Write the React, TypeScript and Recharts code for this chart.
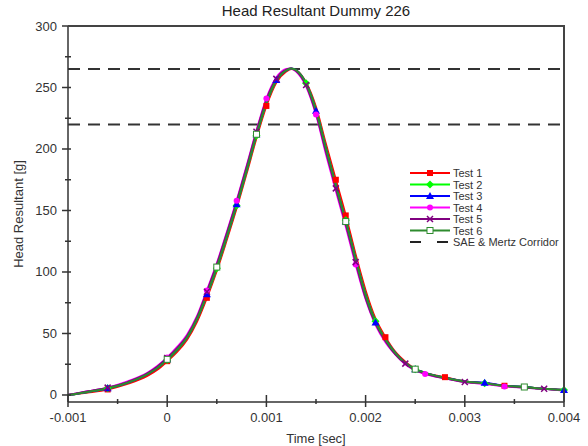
import { LineChart, Line, XAxis, YAxis, ReferenceLine } from 'recharts';

const time = [
  -0.001, -0.0008, -0.0006, -0.0004, -0.0002, -0.0001, 0, 0.0001, 0.0002, 0.0003,
  0.0004, 0.0005, 0.0006, 0.0007, 0.0008, 0.0009, 0.001, 0.0011, 0.0012, 0.00125,
  0.0013, 0.0014, 0.0015, 0.0016, 0.0017, 0.0018, 0.0019, 0.002, 0.0021, 0.0022,
  0.0023, 0.0024, 0.0025, 0.0026, 0.0028, 0.003, 0.0032, 0.0034, 0.0036, 0.0038, 0.004,
];

const test1 = [0, 2, 4.5, 9, 15.5, 20.5, 27.5, 35, 45, 59.5, 79, 101, 126, 152, 180, 209, 235, 254, 263, 265, 264, 254, 234, 204, 175, 146, 114, 85, 62, 47, 35, 27, 21, 18, 14.5, 11, 9.5, 7.5, 6.5, 5, 4];
const test2 = [0, 2.5, 5.5, 10, 17, 22, 28.5, 36.5, 46.5, 61.5, 81, 103, 128, 154, 182, 211, 237, 255.5, 264, 265.5, 264, 253.5, 232, 201, 171, 142, 111, 82, 60, 45.5, 34, 26, 21, 18, 14, 11, 9.5, 7.5, 6.5, 5, 4];
const test3 = [0, 2.5, 5.5, 10, 17, 22, 29, 37, 47, 62, 82, 104, 129, 155, 183, 212, 238, 256, 264, 265.5, 264, 253, 231, 200, 170, 141, 110, 81, 59, 45, 34, 26, 21, 18, 14, 11, 10, 7.5, 6.5, 5, 4];
const test4 = [0, 3, 6, 11, 18, 23.5, 30.5, 39, 49, 64, 85, 107, 132, 158, 186, 215, 241, 258, 265, 265.5, 263, 251, 228, 196, 166, 137, 106, 78, 57, 43, 33, 25, 20, 17, 13.5, 10.5, 9, 7, 6, 5, 3.5];
const test5 = [0, 3, 6, 10.5, 17.5, 23, 30, 38, 48, 63, 84, 106, 131, 157, 185, 214, 240, 257, 264.5, 265.5, 263.5, 252, 229, 198, 168, 139, 108, 79, 58, 44, 33, 25.5, 20.5, 17.5, 13.5, 10.5, 9.5, 7.5, 6, 5, 4];
const test6 = [0, 2.5, 5.5, 10, 17, 22, 29, 37, 47, 62, 82, 104, 129, 155, 183, 212, 238, 256, 264, 265.5, 264, 253, 231, 200, 170, 141, 110, 81, 59, 45, 34, 26, 21, 18, 14, 11, 9.5, 7.5, 6.5, 5, 4];

const corridor = [265, 220];

const xTicks = [-0.001, -0.0005, 0, 0.0005, 0.001, 0.0015, 0.002, 0.0025, 0.003, 0.0035, 0.004];
const yTicks = [0, 25, 50, 75, 100, 125, 150, 175, 200, 225, 250, 275, 300];

// which samples carry a marker, per series
const markerIdx: Record<string, number[]> = {
  test1: [2, 6, 10, 16, 24, 25, 29, 34, 37],
  test2: [2, 6, 11, 13, 15, 21, 25, 28, 32, 36, 40],
  test3: [2, 6, 10, 13, 15, 17, 22, 25, 28, 32, 36, 40],
  test4: [6, 10, 13, 16, 22, 26, 33, 37],
  test5: [2, 6, 10, 15, 17, 21, 24, 26, 31, 35, 39],
  test6: [6, 11, 15, 25, 32, 38],
};

const series = [
  { key: 'test1', name: 'Test 1', color: '#ff0000', shape: 'square' },
  { key: 'test2', name: 'Test 2', color: '#00ff00', shape: 'diamond' },
  { key: 'test3', name: 'Test 3', color: '#0000ff', shape: 'triangle' },
  { key: 'test4', name: 'Test 4', color: '#ff00ff', shape: 'circle' },
  { key: 'test5', name: 'Test 5', color: '#800080', shape: 'cross' },
  { key: 'test6', name: 'Test 6', color: '#2e8b2e', shape: 'open' },
];

const data = time.map((t, i) => ({
  t,
  test1: test1[i],
  test2: test2[i],
  test3: test3[i],
  test4: test4[i],
  test5: test5[i],
  test6: test6[i],
}));

const FONT = 'Liberation Sans, Arial, sans-serif';

function Marker({ cx, cy, color, shape }: { cx: number; cy: number; color: string; shape: string }) {
  const s = 3;
  if (shape === 'square') return <rect x={cx - s} y={cy - s} width={2 * s} height={2 * s} fill={color} />;
  if (shape === 'diamond')
    return <polygon points={`${cx},${cy - 4} ${cx + 4},${cy} ${cx},${cy + 4} ${cx - 4},${cy}`} fill={color} />;
  if (shape === 'triangle')
    return <polygon points={`${cx},${cy - 4} ${cx + 4},${cy + 3} ${cx - 4},${cy + 3}`} fill={color} />;
  if (shape === 'circle') return <circle cx={cx} cy={cy} r={3} fill={color} />;
  if (shape === 'cross')
    return (
      <g stroke={color} strokeWidth={1.5}>
        <line x1={cx - 3} y1={cy - 3} x2={cx + 3} y2={cy + 3} />
        <line x1={cx - 3} y1={cy + 3} x2={cx + 3} y2={cy - 3} />
      </g>
    );
  return <rect x={cx - 3} y={cy - 3} width={6} height={6} fill="#fff" stroke={color} strokeWidth={1} />;
}

function makeDot(key: string, color: string, shape: string) {
  const set = markerIdx[key];
  return (p: any) => {
    if (!set.includes(p.index) || p.cx == null) return <g key={`${key}-${p.index}`} />;
    return (
      <g key={`${key}-${p.index}`}>
        <Marker cx={p.cx} cy={p.cy} color={color} shape={shape} />
      </g>
    );
  };
}

const isMajor = (v: number, step: number) => Math.abs(v / step - Math.round(v / step)) < 1e-6;

function XTick(props: any) {
  const { x, y, payload } = props;
  const v = payload.value;
  const major = isMajor(v, 0.001);
  return (
    <g>
      <line x1={x} x2={x} y1={major ? y - 15 : y - 11} y2={major ? y - 3 : y - 6} stroke="#333" strokeWidth={1.5} />
      {major && (
        <text x={x} y={y + 12} textAnchor="middle" fontSize={13} fill="#333" fontFamily={FONT}>
          {v === 0 ? '0' : v.toFixed(3)}
        </text>
      )}
    </g>
  );
}

function YTick(props: any) {
  const { x, y, payload } = props;
  const v = payload.value;
  const major = isMajor(v, 50);
  return (
    <g>
      <line x1={major ? x + 2 : x + 5} x2={x + 11} y1={y} y2={y} stroke="#333" strokeWidth={1.5} />
      {major && (
        <text x={x - 3} y={y + 4.5} textAnchor="end" fontSize={13} fill="#333" fontFamily={FONT}>
          {v}
        </text>
      )}
    </g>
  );
}

function LegendBox() {
  const rowH = 11.5;
  return (
    <svg width={160} height={90} style={{ display: 'block' }}>
      {series.map((s, i) => {
        const cy = 7 + i * rowH;
        return (
          <g key={s.key}>
            <line x1={5} x2={45} y1={cy} y2={cy} stroke={s.color} strokeWidth={2} />
            <Marker cx={25} cy={cy} color={s.color} shape={s.shape} />
            <text x={48} y={cy + 4} fontSize={11} fill="#333" fontFamily={FONT}>
              {s.name}
            </text>
          </g>
        );
      })}
      <g>
        <line x1={5} x2={45} y1={7 + 6 * rowH} y2={7 + 6 * rowH} stroke="#222" strokeWidth={2} strokeDasharray="11 16" />
        <text x={48} y={7 + 6 * rowH + 4} fontSize={11} fill="#333" fontFamily={FONT}>
          SAE &amp; Mertz Corridor
        </text>
      </g>
    </svg>
  );
}

export default function App() {
  return (
    <div style={{ position: 'absolute', left: 0, top: 0, width: 588, height: 446, background: '#fff', fontFamily: FONT }}>
      <div
        style={{
          position: 'absolute',
          left: 68,
          width: 496,
          top: 2,
          textAlign: 'center',
          fontSize: 15,
          color: '#222',
          zIndex: 2,
        }}
      >
        Head Resultant Dummy 226
      </div>
      <LineChart
        width={588}
        height={446}
        data={data}
        margin={{ top: 26, right: 24, bottom: 0, left: 0 }}
        style={{ position: 'absolute', left: 0, top: 0 }}
      >
        <XAxis
          dataKey="t"
          type="number"
          domain={[-0.001, 0.004]}
          ticks={xTicks}
          interval={0}
          height={44}
          tickSize={0}
          tickMargin={8}
          tick={<XTick />}
          axisLine={{ stroke: '#333', strokeWidth: 1.5 }}
          label={{ value: 'Time [sec]', position: 'insideBottom', offset: 3, fontSize: 13, fill: '#333', fontFamily: FONT }}
        />
        <YAxis
          type="number"
          domain={[-5.7, 300]}
          allowDataOverflow
          ticks={yTicks}
          interval={0}
          width={68}
          tickSize={0}
          tickMargin={8}
          tick={<YTick />}
          axisLine={{ stroke: '#333', strokeWidth: 1.5 }}
          label={{
            value: 'Head Resultant [g]',
            angle: -90,
            position: 'insideLeft',
            offset: 18,
            fontSize: 13,
            fill: '#333',
            fontFamily: FONT,
            style: { textAnchor: 'middle' },
          }}
        />
        {corridor.map((v) => (
          <ReferenceLine key={v} y={v} stroke="#333" strokeWidth={2} strokeDasharray="12 8" />
        ))}
        {series.map((s) => (
          <Line
            key={s.key}
            dataKey={s.key}
            name={s.name}
            type="monotone"
            stroke={s.color}
            strokeWidth={2}
            dot={makeDot(s.key, s.color, s.shape)}
            activeDot={false}
            isAnimationActive={false}
          />
        ))}
      </LineChart>
      {/* plot frame (top + right edges) */}
      <svg width={588} height={446} style={{ position: 'absolute', left: 0, top: 0, zIndex: 3, pointerEvents: 'none' }}>
        <path d="M68,26 L564,26 L564,402" fill="none" stroke="#444" strokeWidth={2} />
      </svg>
      <div style={{ position: 'absolute', left: 405, top: 166, zIndex: 4 }}>
        <LegendBox />
      </div>
    </div>
  );
}
